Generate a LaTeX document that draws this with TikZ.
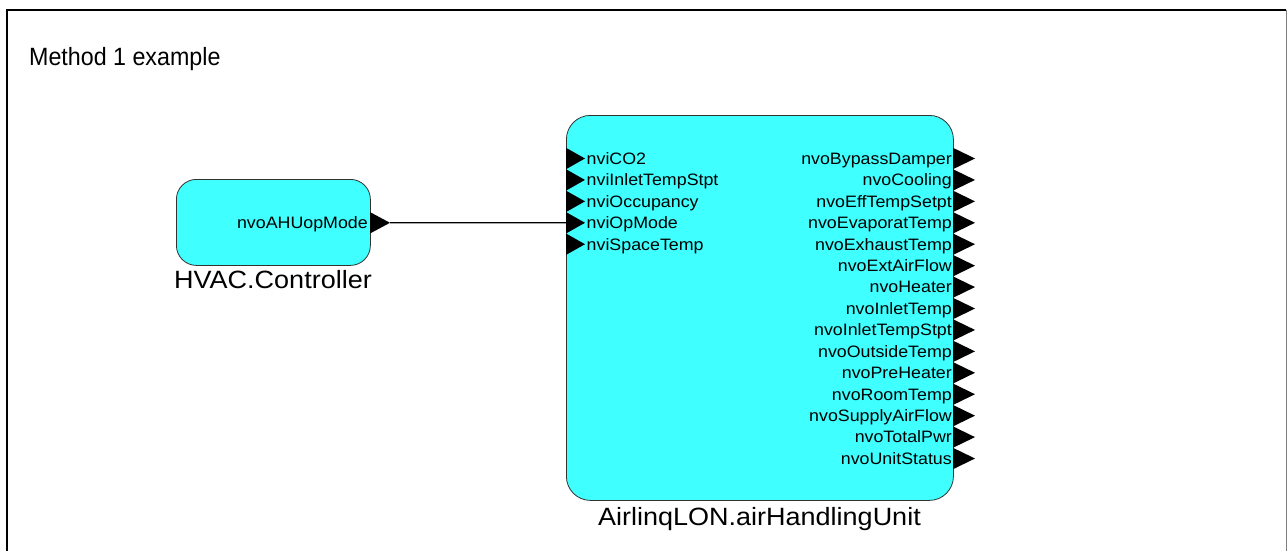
\documentclass[tikz,border=0pt]{standalone}
\usepackage{fontspec}
\setmainfont{Liberation Sans}
\newfontfamily\portf[FakeStretch=1.08]{Liberation Sans}
\newfontfamily\titlef[FakeStretch=0.93]{Liberation Sans}
\definecolor{blockcyan}{RGB}{64,255,255}
\definecolor{edgegray}{RGB}{50,50,50}
\begin{document}
\begin{tikzpicture}[x=1pt,y=-1pt,
  block/.style={draw=edgegray, fill=blockcyan, line width=0.8pt, inner sep=0pt, anchor=north west},
  portlbl/.style={font=\portf\fontsize{16.5}{18}\selectfont, inner sep=0pt},
  namelbl/.style={font=\portf\fontsize{25}{28}\selectfont, inner sep=0pt, anchor=base},
  porttri/.style={fill=black, draw=none},
  wire/.style={line width=1.3pt, draw=black}]
\useasboundingbox (0,0) rectangle (1287,551);
% frame
\draw[line width=2pt] (7,552) -- (7,10) -- (1286,10);
\draw[gray, line width=1pt] (1286,10) -- (1286,552);
% title
\node[anchor=base west, inner sep=0pt, font=\titlef\fontsize{25}{30}\selectfont] (title) at (29,65.7) {Method 1 example};
% controller block
\node[block, minimum width=194pt, minimum height=86pt, rounded corners=20pt] (ctl) at (176,179) {};
\node[namelbl] (ctlname) at (273,288) {HVAC.Controller};
\node[portlbl, anchor=base east] (ctlout) at (368,228.5) {nvoAHUopMode};
\fill[porttri] (370,212.1) -- (390,222.8) -- (370,233.5) -- cycle;
\coordinate (ctlport) at (390,222.8);
% air handling unit
\node[block, minimum width=387pt, minimum height=385pt, rounded corners=24pt] (ahu) at (566,115) {};
\node[namelbl] (ahuname) at (759.5,525) {AirlinqLON.airHandlingUnit};
\foreach \n [count=\i from 0] in {nviCO2,nviInletTempStpt,nviOccupancy,nviOpMode,nviSpaceTemp}{
  \pgfmathsetmacro\yc{158.5+21.43*\i}
  \fill[porttri] (566,\yc-10.7) -- (585,\yc) -- (566,\yc+10.7) -- cycle;
  \coordinate (inport\i) at (566,\yc);
  \node[portlbl, anchor=base west] (in\i) at (586.5,\yc+5.8) {\n};
}
\foreach \n [count=\i from 0] in {nvoBypassDamper,nvoCooling,nvoEffTempSetpt,nvoEvaporatTemp,nvoExhaustTemp,nvoExtAirFlow,nvoHeater,nvoInletTemp,nvoInletTempStpt,nvoOutsideTemp,nvoPreHeater,nvoRoomTemp,nvoSupplyAirFlow,nvoTotalPwr,nvoUnitStatus}{
  \pgfmathsetmacro\yc{158.5+21.43*\i}
  \fill[porttri] (953,\yc-10.7) -- (975,\yc) -- (953,\yc+10.7) -- cycle;
  \coordinate (outport\i) at (975,\yc);
  \node[portlbl, anchor=base east] (out\i) at (952,\yc+5.8) {\n};
}
% connector
\draw[wire] (ctlport) -- (inport3);
\end{tikzpicture}
\end{document}
